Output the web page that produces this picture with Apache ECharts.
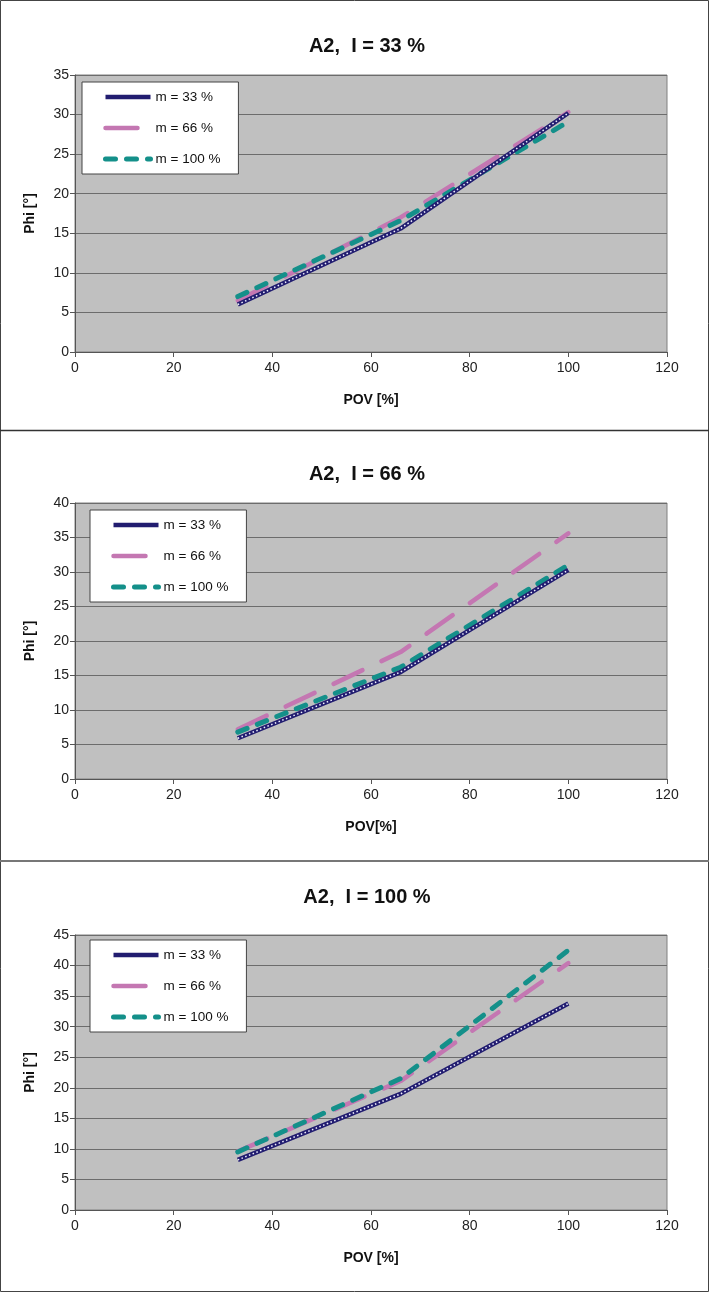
<!DOCTYPE html>
<html><head><meta charset="utf-8">
<script src="https://cdn.jsdelivr.net/npm/echarts@6/dist/echarts.min.js"></script>
<style>html,body{margin:0;padding:0;background:#fff}#c{width:709px;height:1292px}</style>
</head><body><div id="c"></div>
<script>
// ---- data ----
const pov = [33, 66, 100];
const titles = ['A2,  I = 33 %', 'A2,  I = 66 %', 'A2,  I = 100 %'];
const xNames = ['POV [%]', 'POV[%]', 'POV [%]'];
const yName = 'Phi [°]';
const seriesNames = ['m = 33 %', 'm = 66 %', 'm = 100 %'];
const yMax = [35, 40, 45];
const xMin = 0, xMax = 120, xStep = 20, yStep = 5;
// I = 33 %
const i33_m33 = [6.0, 15.6, 30.2];
const i33_m66 = [6.5, 17.0, 30.3];
const i33_m100 = [7.0, 16.6, 29.1];
// I = 66 %
const i66_m33 = [5.9, 15.5, 30.3];
const i66_m66 = [7.2, 18.4, 35.6];
const i66_m100 = [6.8, 16.2, 31.0];
// I = 100 %
const i100_m33 = [8.2, 19.0, 33.8];
const i100_m66 = [9.6, 21.1, 40.4];
const i100_m100 = [9.5, 21.5, 42.5];
const panels = [
  [i33_m33, i33_m66, i33_m100],
  [i66_m33, i66_m66, i66_m100],
  [i100_m33, i100_m66, i100_m100]
];

// ---- layout / style ----
const FONT = '"Liberation Sans", Arial, sans-serif';
const gridTop = [75, 503, 935];
const gridH = [277, 276, 275];
const titleTop = [31, 459, 882];
const legendPos = [[82, 82], [90, 510], [90, 940]];
const colNavy = '#221d70', colPink = '#c477b2', colTeal = '#14908a';
const styleNavy = {color: colNavy, width: 4.5, type: 'solid', cap: 'butt'};
const stylePink = {color: colPink, width: 4.5, type: [32, 21], cap: 'round'};
const styleTeal = {color: colTeal, width: 5, type: [10, 11], cap: 'round'};
const legendStyles = [styleNavy, stylePink, styleTeal];

function pts(ys) { return pov.map((x, i) => [x, ys[i]]); }

const option = {
  animation: false,
  backgroundColor: '#fff',
  title: [], legend: [], grid: [], xAxis: [], yAxis: [], series: [],
  graphic: [
    {type: 'rect', shape: {x: 0.5, y: 0.5, width: 708, height: 1291}, style: {fill: 'none', stroke: '#444', lineWidth: 1}, z: 100},
    {type: 'line', shape: {x1: 0, y1: 430.5, x2: 709, y2: 430.5}, style: {stroke: '#333', lineWidth: 1.5}, z: 100},
    {type: 'line', shape: {x1: 0, y1: 861, x2: 709, y2: 861}, style: {stroke: '#777', lineWidth: 2}, z: 100}
  ]
};

for (let p = 0; p < 3; p++) {
  option.title.push({
    text: titles[p], left: 362, top: titleTop[p], textAlign: 'center',
    textStyle: {fontFamily: FONT, fontSize: 20, fontWeight: 'bold', color: '#111'}
  });
  option.grid.push({
    left: 75, width: 592, top: gridTop[p], height: gridH[p],
    show: true, backgroundColor: '#c0c0c0', borderColor: '#808080', borderWidth: 1
  });
  option.xAxis.push({
    gridIndex: p, type: 'value', min: xMin, max: xMax, interval: xStep,
    name: xNames[p], nameLocation: 'middle', nameGap: 41,
    nameTextStyle: {fontFamily: FONT, fontSize: 14, fontWeight: 'bold', color: '#111'},
    axisLine: {show: true, onZero: false, lineStyle: {color: '#555', width: 1}},
    axisTick: {show: true, length: 5, lineStyle: {color: '#555'}},
    axisLabel: {fontFamily: FONT, fontSize: 14, color: '#222', margin: 9},
    splitLine: {show: false}
  });
  option.yAxis.push({
    gridIndex: p, type: 'value', min: 0, max: yMax[p], interval: yStep,
    name: yName, nameLocation: 'middle', nameGap: 38, nameRotate: 90,
    nameTextStyle: {fontFamily: FONT, fontSize: 14, fontWeight: 'bold', color: '#111'},
    axisLine: {show: true, lineStyle: {color: '#555', width: 1}},
    axisTick: {show: true, length: 5, lineStyle: {color: '#555'}},
    axisLabel: {fontFamily: FONT, fontSize: 14, color: '#222', margin: 6},
    splitLine: {show: true, lineStyle: {color: '#6c6c6c', width: 1}}
  });
  option.legend.push({
    orient: 'vertical', left: legendPos[p][0], top: legendPos[p][1],
    itemWidth: 45, itemHeight: 14, itemGap: 17,
    padding: [8, 18, 8, 21],
    backgroundColor: '#fff', borderColor: '#444', borderWidth: 1,
    textStyle: {fontFamily: FONT, fontSize: 13.5, color: '#111'},
    itemStyle: {opacity: 0},
    data: seriesNames.map((n, k) => ({name: n, itemStyle: {opacity: 0}, lineStyle: Object.assign({}, legendStyles[k])}))
  });
  const d = panels[p];
  option.series.push(
    {name: seriesNames[1], type: 'line', xAxisIndex: p, yAxisIndex: p, data: pts(d[1]), symbol: 'none', z: 2,
     itemStyle: {color: colPink}, lineStyle: stylePink},
    {name: seriesNames[2], type: 'line', xAxisIndex: p, yAxisIndex: p, data: pts(d[2]), symbol: 'none', z: 3,
     itemStyle: {color: colTeal}, lineStyle: styleTeal},
    {name: seriesNames[0], type: 'line', xAxisIndex: p, yAxisIndex: p, data: pts(d[0]), symbol: 'none', z: 4,
     itemStyle: {color: colNavy}, lineStyle: styleNavy},
    {name: seriesNames[0] + ' dots', type: 'line', xAxisIndex: p, yAxisIndex: p, data: pts(d[0]), symbol: 'none', z: 5,
     silent: true, itemStyle: {color: '#fff'},
     lineStyle: {color: '#f0f0ff', width: 1.5, type: [1.5, 2.5]}}
  );
}

const chart = echarts.init(document.getElementById('c'), null, {renderer: 'canvas'});
chart.setOption(option);
</script>
</body></html>
